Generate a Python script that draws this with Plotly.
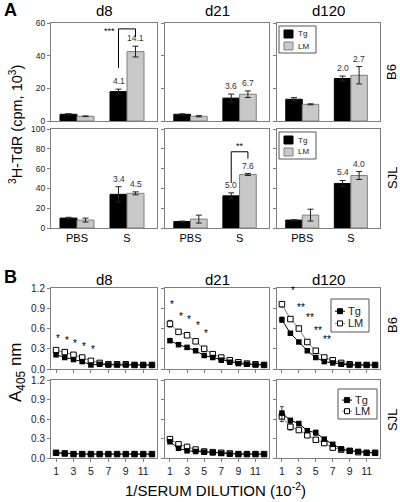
import plotly.graph_objects as go

# ---------------- data ----------------
days = ["d8", "d21", "d120"]
strains = ["B6", "SJL"]
groups = ["PBS", "S"]
group_pos = [1, 2]
series_names = ["Tg", "LM"]

# Panel A: 3H-TdR incorporation (cpm x 10^3), per day -> [PBS, S]
tg_cpm_b6 = [[4.1, 18.0], [4.1, 14.0], [13.3, 26.0]]
tg_err_b6 = [[0.4, 1.5], [0.3, 2.5], [1.0, 1.5]]
lm_cpm_b6 = [[2.9, 42.5], [2.9, 16.4], [10.2, 28.0]]
lm_err_b6 = [[0.2, 3.3], [0.4, 2.0], [0.3, 5.3]]
tg_cpm_sjl = [[10.0, 34.0], [6.5, 32.5], [8.0, 45.0]]
tg_err_sjl = [[0.8, 7.7], [0.5, 3.0], [0.3, 3.0]]
lm_cpm_sjl = [[8.0, 35.0], [9.0, 54.0], [13.0, 53.0]]
lm_err_sjl = [[2.0, 1.5], [4.0, 1.0], [6.0, 4.0]]
si_tg_b6 = ["4.1", "3.6", "2.0"]
si_lm_b6 = ["14.1", "6.7", "2.7"]
si_tg_sjl = ["3.4", "5.0", "5.4"]
si_lm_sjl = ["4.5", "7.6", "4.0"]

# Panel B: A405 vs 1/serum dilution (10^-2)
dilution = [1, 2, 3, 4, 5, 6, 7, 8, 9, 10, 11, 12]
tg_a405_b6_d8 = [0.21, 0.17, 0.14, 0.11, 0.06, 0.07, 0.06, 0.06, 0.06, 0.06, 0.06, 0.06]
lm_a405_b6_d8 = [0.28, 0.25, 0.21, 0.17, 0.12, 0.09, 0.07, 0.07, 0.07, 0.06, 0.06, 0.06]
tg_a405_b6_d21 = [0.42, 0.36, 0.32, 0.27, 0.20, 0.17, 0.13, 0.10, 0.08, 0.07, 0.06, 0.06]
lm_a405_b6_d21 = [0.67, 0.55, 0.50, 0.41, 0.30, 0.22, 0.17, 0.13, 0.10, 0.08, 0.07, 0.06]
tg_a405_b6_d120 = [0.73, 0.53, 0.40, 0.27, 0.17, 0.11, 0.09, 0.07, 0.06, 0.06, 0.06, 0.06]
lm_a405_b6_d120 = [0.96, 0.74, 0.60, 0.40, 0.27, 0.17, 0.13, 0.09, 0.07, 0.06, 0.06, 0.06]
tg_a405_sjl_d8 = [0.08, 0.07, 0.06, 0.06, 0.06, 0.06, 0.06, 0.06, 0.06, 0.06, 0.06, 0.06]
lm_a405_sjl_d8 = [0.08, 0.07, 0.06, 0.06, 0.06, 0.06, 0.06, 0.06, 0.06, 0.06, 0.06, 0.06]
tg_a405_sjl_d21 = [0.25, 0.15, 0.11, 0.10, 0.09, 0.08, 0.07, 0.06, 0.06, 0.06, 0.06, 0.06]
lm_a405_sjl_d21 = [0.29, 0.21, 0.17, 0.13, 0.10, 0.09, 0.08, 0.07, 0.06, 0.06, 0.06, 0.06]
tg_a405_sjl_d120 = [0.69, 0.58, 0.53, 0.42, 0.39, 0.29, 0.21, 0.14, 0.11, 0.10, 0.08, 0.08]
lm_a405_sjl_d120 = [0.64, 0.48, 0.43, 0.35, 0.28, 0.23, 0.16, 0.13, 0.11, 0.09, 0.08, 0.08]
tg_err_b6_d120 = [0.04, 0, 0, 0, 0, 0, 0, 0, 0, 0, 0, 0]
lm_err_b6_d21 = [0.05, 0, 0, 0, 0, 0, 0, 0, 0, 0, 0, 0]
lm_err_b6_d120 = [0.04, 0, 0, 0, 0, 0, 0, 0, 0, 0, 0, 0]
tg_err_sjl_d120 = [0.10, 0.02, 0.02, 0.02, 0.04, 0.02, 0, 0, 0, 0, 0, 0]
lm_err_sjl_d120 = [0.08, 0.05, 0.02, 0.02, 0.02, 0.02, 0, 0, 0, 0, 0, 0]
stars_b6_d8 = ["*", "*", "*", "*", "*"]
stars_b6_d21 = ["*", "*", "*", "*", "*"]
stars_b6_d120 = ["*", "**", "**", "**", "**"]

# ---------------- layout helpers ----------------
W, H = 400, 502
FONT = "Arial, Liberation Sans, sans-serif"
def px(x): return x / W
def py(y): return 1 - y / H

cols = [(51, 157), (165, 269), (277, 380)]
rowsA = [(23, 121), (129, 228)]
rowsB = [(288, 369), (380, 458)]
BOX = "#7f7f7f"
LMFILL = "#c8c8c8"
BW = 0.34

fig = go.Figure()
layout = dict(width=W, height=H, margin=dict(l=0, r=0, t=0, b=0, autoexpand=False),
              paper_bgcolor="white", plot_bgcolor="white",
              font=dict(family=FONT, color="black"), showlegend=False)
annotations = []
shapes = []

def sfx(p): return "" if p == 1 else str(p)

# ---------- Panel A ----------
A_data = [
    (tg_cpm_b6, tg_err_b6, lm_cpm_b6, lm_err_b6, si_tg_b6, si_lm_b6, [0, 20, 40, 60], 60),
    (tg_cpm_sjl, tg_err_sjl, lm_cpm_sjl, lm_err_sjl, si_tg_sjl, si_lm_sjl, [0, 20, 40, 60, 80, 100], 100),
]
for r in range(2):
    tg, tge, lm, lme, stg, slm, yt, ymax = A_data[r]
    for c in range(3):
        p = r * 3 + c + 1
        s = sfx(p)
        layout["xaxis" + s] = dict(domain=[px(cols[c][0]), px(cols[c][1])], anchor="y" + s,
                                   range=[0.48, 2.6], showline=True, mirror=True, linecolor=BOX,
                                   linewidth=1, showgrid=False, zeroline=False, ticks="",
                                   tickvals=group_pos, ticktext=groups, automargin=False,
                                   showticklabels=(r == 1), tickfont=dict(size=11))
        layout["yaxis" + s] = dict(domain=[py(rowsA[r][1]), py(rowsA[r][0])], anchor="x" + s,
                                   range=[0, ymax], showline=True, mirror=True, linecolor=BOX,
                                   linewidth=1, showgrid=False, zeroline=False, ticks="outside",
                                   ticklen=3, tickcolor=BOX, tickvals=yt, automargin=False,
                                   showticklabels=(c == 0), tickfont=dict(size=8.5, color="#222"))
        fig.add_trace(go.Bar(x=group_pos, y=tg[c], width=BW, offset=-BW, name=series_names[0],
                             marker=dict(color="black", line=dict(color="black", width=1)),
                             error_y=dict(type="data", array=tge[c], color="#222", thickness=1, width=3),
                             xaxis="x" + s, yaxis="y" + s, hoverinfo="skip"))
        fig.add_trace(go.Bar(x=group_pos, y=lm[c], width=BW, offset=0, name=series_names[1],
                             marker=dict(color=LMFILL, line=dict(color="#808080", width=1)),
                             error_y=dict(type="data", array=lme[c], color="#222", thickness=1, width=3),
                             xaxis="x" + s, yaxis="y" + s, hoverinfo="skip"))
        annotations.append(dict(x=group_pos[1] - BW / 2, y=tg[c][1] + tge[c][1], xref="x" + s, yref="y" + s,
                                text=stg[c], showarrow=False, yanchor="bottom", yshift=1,
                                font=dict(size=8.5, color="#333")))
        annotations.append(dict(x=group_pos[1] + BW / 2, y=lm[c][1] + lme[c][1], xref="x" + s, yref="y" + s,
                                text=slm[c], showarrow=False, yanchor="bottom", yshift=1,
                                font=dict(size=8.5, color="#333")))

# significance brackets
def bracket(p, tg_top, lm_top, left_off, right_off, top_off, label, label_pos):
    s = sfx(p)
    xl, xr = group_pos[1] - BW / 2, group_pos[1] + BW / 2
    yl, yr, yt = tg_top + left_off, lm_top + right_off, lm_top + top_off
    for (x0, y0, x1, y1) in [(xl, yl, xl, yt), (xl, yt, xr, yt), (xr, yt, xr, yr)]:
        shapes.append(dict(type="line", xref="x" + s, yref="y" + s, x0=x0, y0=y0, x1=x1, y1=y1,
                           line=dict(color="black", width=1)))
    if label_pos == "left":
        annotations.append(dict(x=xl, y=yt, xref="x" + s, yref="y" + s, text=label, showarrow=False,
                                xanchor="right", xshift=-2, yshift=-2, font=dict(size=9, color="black")))
    else:
        annotations.append(dict(x=(xl + xr) / 2, y=yt, xref="x" + s, yref="y" + s, text=label,
                                showarrow=False, yanchor="bottom", yshift=-1, font=dict(size=9, color="black")))

bracket(1, tg_cpm_b6[0][1] + tg_err_b6[0][1], lm_cpm_b6[0][1] + lm_err_b6[0][1], 13, 5.7, 10.6, "***", "left")
bracket(5, tg_cpm_sjl[1][1] + tg_err_sjl[1][1], lm_cpm_sjl[1][1] + lm_err_sjl[1][1], 10, 15, 22, "**", "top")

# ---------- Panel B ----------
B_tg = [[tg_a405_b6_d8, tg_a405_b6_d21, tg_a405_b6_d120],
        [tg_a405_sjl_d8, tg_a405_sjl_d21, tg_a405_sjl_d120]]
B_lm = [[lm_a405_b6_d8, lm_a405_b6_d21, lm_a405_b6_d120],
        [lm_a405_sjl_d8, lm_a405_sjl_d21, lm_a405_sjl_d120]]
B_tge = [[None, None, tg_err_b6_d120], [None, None, tg_err_sjl_d120]]
B_lme = [[None, lm_err_b6_d21, lm_err_b6_d120], [None, None, lm_err_sjl_d120]]
B_stars = [[stars_b6_d8, stars_b6_d21, stars_b6_d120], [None, None, None]]
star_xshift = [2, 2, 11]
star_yshift = [4, 8, 4]
yticksB = [0, 0.3, 0.6, 0.9, 1.2]

for r in range(2):
    for c in range(3):
        p = 7 + r * 3 + c
        s = sfx(p)
        layout["xaxis" + s] = dict(domain=[px(cols[c][0]), px(cols[c][1])], anchor="y" + s,
                                   range=[0.42, 12.58], showline=True, mirror=True, linecolor=BOX,
                                   linewidth=1, showgrid=False, zeroline=False, ticks="outside",
                                   ticklen=3, tickcolor=BOX, tickvals=[1, 3, 5, 7, 9, 11], automargin=False,
                                   showticklabels=(r == 1), tickfont=dict(size=10.5, color="#222"))
        layout["yaxis" + s] = dict(domain=[py(rowsB[r][1]), py(rowsB[r][0])], anchor="x" + s,
                                   range=[0, 1.2], showline=True, mirror=True, linecolor=BOX,
                                   linewidth=1, showgrid=False, zeroline=False, ticks="outside",
                                   ticklen=3, tickcolor=BOX, tickvals=yticksB, tickformat=".1f",
                                   automargin=False,
                                   showticklabels=(c == 0), tickfont=dict(size=10, color="#222"))
        lme = B_lme[r][c]
        tge = B_tge[r][c]
        fig.add_trace(go.Scatter(x=dilution, y=B_lm[r][c], mode="lines+markers", name=series_names[1],
                                 line=dict(color="#808080", width=1),
                                 marker=dict(symbol="square", size=5.5, color="white",
                                             line=dict(color="black", width=1)),
                                 error_y=(dict(type="data", array=lme, color="#444", thickness=1, width=2)
                                          if lme else None),
                                 xaxis="x" + s, yaxis="y" + s, hoverinfo="skip"))
        fig.add_trace(go.Scatter(x=dilution, y=B_tg[r][c], mode="lines+markers", name=series_names[0],
                                 line=dict(color="black", width=1),
                                 marker=dict(symbol="square", size=5.5, color="black"),
                                 error_y=(dict(type="data", array=tge, color="#444", thickness=1, width=2)
                                          if tge else None),
                                 xaxis="x" + s, yaxis="y" + s, hoverinfo="skip"))
        st = B_stars[r][c]
        if st:
            for i, lab in enumerate(st):
                ytop = B_lm[r][c][i] + (lme[i] if lme else 0)
                annotations.append(dict(x=dilution[i], y=ytop, xref="x" + s, yref="y" + s, text=lab,
                                        showarrow=False, yanchor="bottom", xshift=star_xshift[c],
                                        yshift=star_yshift[c], font=dict(size=10, color="black")))

# ---------- legend keys (drawn in paper space) ----------
def rect(x0, y0, x1, y1, fill, line, lw=1):
    shapes.append(dict(type="rect", xref="paper", yref="paper", x0=px(x0), x1=px(x1),
                       y0=py(y1), y1=py(y0), fillcolor=fill, line=dict(color=line, width=lw)))

def hline(x0, x1, y, color):
    shapes.append(dict(type="line", xref="paper", yref="paper", x0=px(x0), x1=px(x1),
                       y0=py(y), y1=py(y), line=dict(color=color, width=1)))

def text_at(x, y, text, size, xanchor="center", angle=0, color="black"):
    annotations.append(dict(x=px(x), y=py(y), xref="paper", yref="paper", text=text, showarrow=False,
                            xanchor=xanchor, yanchor="middle", textangle=angle,
                            font=dict(size=size, color=color)))

# bar legends (panel A, d120)
for top in (26, 132):
    rect(279, top, 316, top + 27, "white", "#555")
    rect(284, top + 4, 293, top + 12, "black", "black")
    text_at(296, top + 8, series_names[0], 8, "left", color="#222")
    rect(284, top + 16, 293, top + 24, LMFILL, "#808080")
    text_at(296, top + 20, series_names[1], 8, "left", color="#222")

# line legends (panel B, d120)
for (bx0, by0, bx1, by1) in [(331, 299, 369, 332), (338, 389, 377, 419)]:
    rect(bx0, by0, bx1, by1, "white", "#555")
    yc1 = by0 + (by1 - by0) * 0.37
    yc2 = by0 + (by1 - by0) * 0.74
    hline(bx0 + 4, bx0 + 14, yc1, "black")
    rect(bx0 + 6.5, yc1 - 2.5, bx0 + 11.5, yc1 + 2.5, "black", "black")
    text_at(bx0 + 15, yc1, series_names[0], 11, "left", color="#222")
    hline(bx0 + 4, bx0 + 14, yc2, "#808080")
    rect(bx0 + 6.5, yc2 - 2.5, bx0 + 11.5, yc2 + 2.5, "white", "black")
    text_at(bx0 + 15, yc2, series_names[1], 11, "left", color="#222")

# titles / labels
for c, d in enumerate(days):
    xc = (cols[c][0] + cols[c][1]) / 2
    text_at(xc, 11, d, 15)
    text_at(xc, 279, d, 15)
text_at(10, 10, "<b>A</b>", 18)
text_at(10, 277, "<b>B</b>", 18)
text_at(16, 125, "<sup>3</sup>H-TdR (cpm, 10<sup>3</sup>)", 14.5, angle=-90)
text_at(17, 372, "A<sub>405</sub> nm", 17, angle=-90)
text_at(215, 489, "1/SERUM DILUTION (10<sup>-2</sup>)", 15)
for (yc, lab) in [(72, strains[0]), (178, strains[1]), (325, strains[0]), (420, strains[1])]:
    text_at(392, yc, lab, 13, angle=-90)

layout["annotations"] = annotations
layout["shapes"] = shapes
layout["hovermode"] = False
fig.update_layout(**layout)
fig.write_html("out.html", config={"displayModeBar": False, "staticPlot": True},
               post_script="document.body.style.margin='0';document.body.style.padding='0';")
